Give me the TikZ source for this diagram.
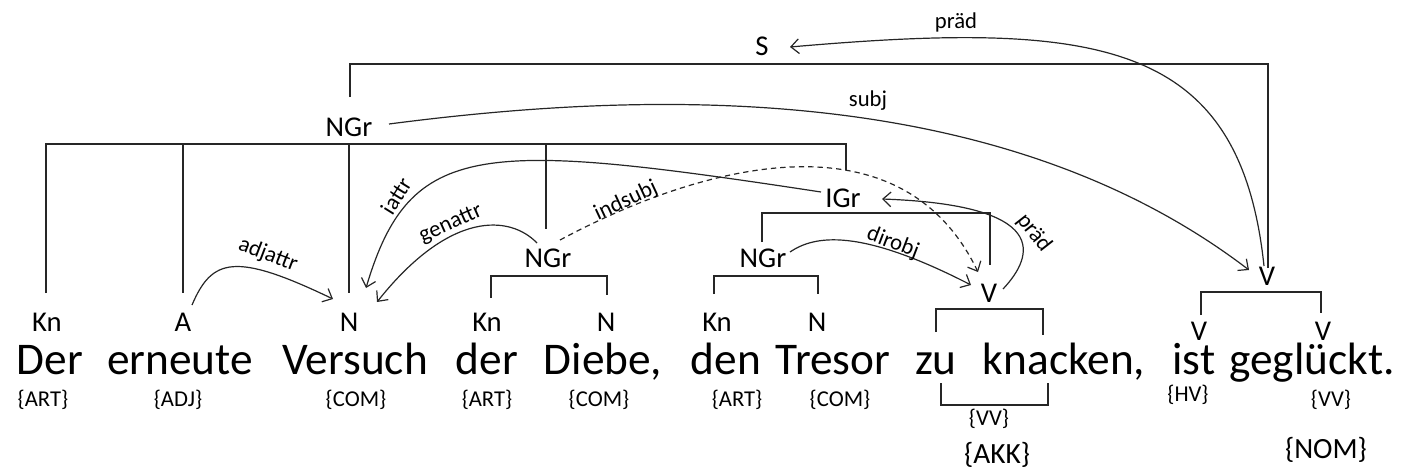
\documentclass[tikz,border=0pt]{standalone}
\usepackage{fontspec}
\setmainfont{Carlito}
\usetikzlibrary{arrows.meta}
\begin{document}
\begin{tikzpicture}[x=0.75pt,y=-0.75pt,
  word/.style={anchor=base, font=\fontsize{34}{40}\selectfont, inner sep=0pt},
  cat/.style={anchor=base, font=\fontsize{21.5}{26}\selectfont, inner sep=1pt},
  tag/.style={anchor=base, font=\fontsize{17}{20}\selectfont, inner sep=0pt},
  bigtag/.style={anchor=base, font=\fontsize{22}{26}\selectfont, inner sep=0pt},
  rel/.style={font=\fontsize{17}{20}\selectfont, inner sep=0pt},
  br/.style={line width=0.9pt, draw=black!85},
  arr/.style={line width=0.9pt, draw=black!85, -{Straight Barb[length=6pt,width=11pt]}},
  darr/.style={arr, dashed, dash pattern=on 4pt off 3pt}]
\useasboundingbox (0,0) rectangle (1405,472);

% category nodes
\node[cat] (S) at (762,55) {S};
\node[cat] (NGr1) at (349,136) {NGr};
\node[cat] (IGr) at (843,207) {IGr};
\node[cat] (NGr2) at (548,267) {NGr};
\node[cat] (NGr3) at (763,267) {NGr};
\node[cat] (Vk) at (989,302) {V};
\node[cat] (Vt) at (1267,285) {V};
\node[cat] (Kn1) at (47,331) {Kn};
\node[cat] (A) at (183,331) {A};
\node[cat] (N1) at (349,331) {N};
\node[cat] (Kn2) at (487,331) {Kn};
\node[cat] (N2) at (606,331) {N};
\node[cat] (Kn3) at (717,331) {Kn};
\node[cat] (N3) at (817,331) {N};
\node[cat] (V1) at (1199,340) {V};
\node[cat] (V2) at (1323,340) {V};

% words
\node[word] (w1) at (50,374) {Der};
\node[word] (w2) at (180,374) {erneute};
\node[word] (w3) at (355,374) {Versuch};
\node[word] (w4) at (487,374) {der};
\node[word] (w5) at (603,374) {Diebe,};
\node[word] (w6) at (726,374) {den};
\node[word] (w7) at (833,374) {Tresor};
\node[word] (w8) at (936,374) {zu};
\node[word] (w9) at (1064,374) {knacken,};
\node[word] (w10) at (1194,374) {ist};
\node[word] (w11) at (1312,374) {geglückt.};

% tags
\node[tag] (t1) at (43,406) {\{ART\}};
\node[tag] (t2) at (178,406) {\{ADJ\}};
\node[tag] (t3) at (356,406) {\{COM\}};
\node[tag] (t4) at (487,406) {\{ART\}};
\node[tag] (t5) at (599,406) {\{COM\}};
\node[tag] (t6) at (737,406) {\{ART\}};
\node[tag] (t7) at (840,406) {\{COM\}};
\node[tag] (t8) at (989,425) {\{VV\}};
\node[tag] (t9) at (1188,401) {\{HV\}};
\node[tag] (t10) at (1331,406) {\{VV\}};
\node[bigtag] (akk) at (997,463) {\{AKK\}};
\node[bigtag] (nom) at (1326,458) {\{NOM\}};

% brackets
\draw[br] (350,97) -- (350,64) -- (1268,64) -- (1268,268);
\draw[br] (46,293) -- (46,144) -- (846,144) -- (846,170);
\draw[br] (183,144) -- (183,293);
\draw[br] (349,144) -- (349,293);
\draw[br] (546,144) -- (546,229);
\draw[br] (491,298) -- (491,276) -- (607,276) -- (607,295);
\draw[br] (714,294) -- (714,276) -- (818,276) -- (818,294);
\draw[br] (762,242) -- (762,213) -- (990,213) -- (990,265);
\draw[br] (936,332) -- (936,309) -- (1043,309) -- (1043,335);
\draw[br] (941,383) -- (941,405) -- (1048,405) -- (1048,383);
\draw[br] (1201,315) -- (1201,292) -- (1321,292) -- (1321,313);

% relation endpoints
\coordinate (pS) at (790,47);
\coordinate (pVt) at (1264,266);
\coordinate (sNG) at (389,124);
\coordinate (sVt) at (1249,270);
\coordinate (iIG) at (821,192);
\coordinate (iN) at (366,288);
\coordinate (gNG) at (537,243);
\coordinate (gN) at (377,302);
\coordinate (aA) at (192,305);
\coordinate (aN) at (333,299);
\coordinate (dNG) at (560,240);
\coordinate (dV) at (978,272);
\coordinate (oNG) at (790,252);
\coordinate (oV) at (971,285);
\coordinate (rV) at (1003,289);
\coordinate (rIG) at (882,199);

% relations
\draw[arr] (pVt) .. controls (1240,40) and (1100,20) .. (pS);
\node[rel] (lpr1) at (956,22) {präd};
\draw[arr] (sNG) .. controls (650,90) and (1000,80) .. (sVt);
\node[rel] (lsubj) at (868,101) {subj};
\draw[arr] (iIG) .. controls (480,140) and (410,140) .. (iN);
\node[rel, rotate=58] (liattr) at (396,196) {iattr};
\draw[arr] (gNG) .. controls (510,215) and (450,210) .. (gN);
\node[rel, rotate=24] (lgen) at (451,224) {genattr};
\draw[arr] (aA) .. controls (212,258) and (235,252) .. (aN);
\node[rel, rotate=-21] (ladj) at (268,255) {adjattr};
\draw[darr] (dNG) .. controls (700,165) and (900,110) .. (dV);
\node[rel, rotate=25] (lind) at (626,201) {indsubj};
\draw[arr] (oNG) .. controls (815,235) and (860,228) .. (oV);
\node[rel, rotate=-21] (ldir) at (893,243) {dirobj};
\draw[arr] (rV) .. controls (1035,255) and (1050,205) .. (rIG);
\node[rel, rotate=-52] (lpr2) at (1034,233) {präd};
\end{tikzpicture}
\end{document}
